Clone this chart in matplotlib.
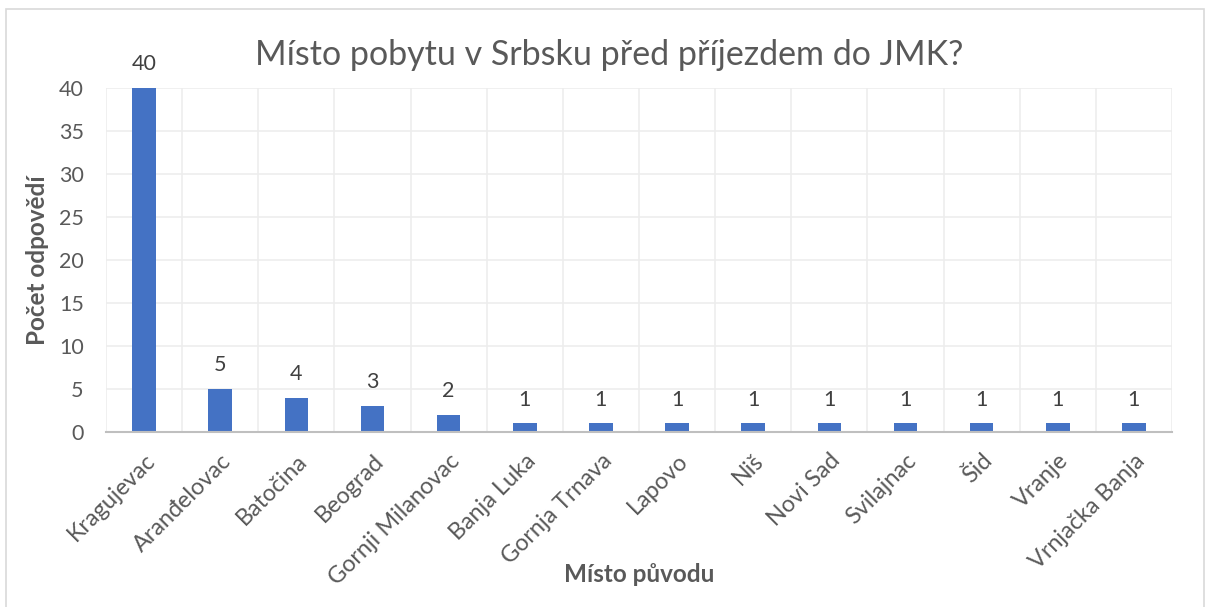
import matplotlib
matplotlib.use("Agg")
import matplotlib.pyplot as plt
from matplotlib.patches import Rectangle
from matplotlib.transforms import ScaledTranslation

categories = ["Kragujevac", "Aranđelovac", "Batočina", "Beograd", "Gornji Milanovac",
              "Banja Luka", "Gornja Trnava", "Lapovo", "Niš", "Novi Sad", "Svilajnac",
              "Šid", "Vranje", "Vrnjačka Banja"]
values = [40, 5, 4, 3, 2, 1, 1, 1, 1, 1, 1, 1, 1, 1]
yticks = [0, 5, 10, 15, 20, 25, 30, 35, 40]

title = "Místo pobytu v Srbsku před příjezdem do JMK?"
ylabel = "Počet odpovědí"
xlabel = "Místo původu"

plt.rcParams['font.family'] = ['Lato', 'DejaVu Sans']
W, H = 1206, 607
fig = plt.figure(figsize=(W / 100, H / 100), dpi=100)
fig.patch.set_facecolor("white")

# outer chart border
fig.patches.append(Rectangle((6 / W, -0.01), (1204 - 6) / W, (H - 9) / H + 0.01,
                             transform=fig.transFigure, fill=False,
                             edgecolor="#D9D9D9", linewidth=1.2))

left, right, top, bottom = 106, 1172, 88, 432
ax = fig.add_axes([left / W, 1 - bottom / H, (right - left) / W, (bottom - top) / H])

x = list(range(len(categories)))
ax.bar(x, values, width=0.31, color="#4472C4", zorder=3)
ax.set_xlim(-0.5, len(categories) - 0.5)
ax.set_ylim(0, 40)
ax.set_yticks(yticks)
ax.set_yticklabels([str(t) for t in yticks], fontsize=15.5, color="#595959")

for b in range(len(categories) + 1):
    ax.axvline(b - 0.5, color="#EDEDED", linewidth=1.2, zorder=1)
for t in yticks:
    ax.axhline(t, color="#EDEDED", linewidth=1.2, zorder=1)

ax.set_xticks(x)
ax.set_xticklabels(categories, rotation=45, ha="right", va="top",
                   rotation_mode="anchor", fontsize=16.8, color="#595959")
shift = ScaledTranslation(6 / 100, 0, fig.dpi_scale_trans)
for lbl in ax.get_xticklabels():
    lbl.set_transform(lbl.get_transform() + shift)
ax.tick_params(axis="both", length=0)
ax.tick_params(axis="x", pad=13)
ax.tick_params(axis="y", pad=16)
for s in ["top", "right", "left"]:
    ax.spines[s].set_visible(False)
ax.spines["bottom"].set_color("#BFBFBF")
ax.spines["bottom"].set_linewidth(1.5)
ax.spines["bottom"].set_zorder(4)

for xi, v in zip(x, values):
    ax.annotate(str(v), (xi, v), xytext=(0, 10), textcoords="offset points",
                ha="center", va="bottom", fontsize=15.5, color="#404040")

fig.text(609 / W, 1 - 55 / H, title, ha="center", va="center",
         fontsize=24.5, color="#595959")
fig.text(38 / W, 1 - 260 / H, ylabel, rotation=90, ha="center", va="center",
         fontsize=17.5, fontweight="bold", color="#595959")
fig.text(639 / W, 1 - 575 / H, xlabel, ha="center", va="center",
         fontsize=17.5, fontweight="bold", color="#595959")

fig.savefig("out.png", dpi=100)
